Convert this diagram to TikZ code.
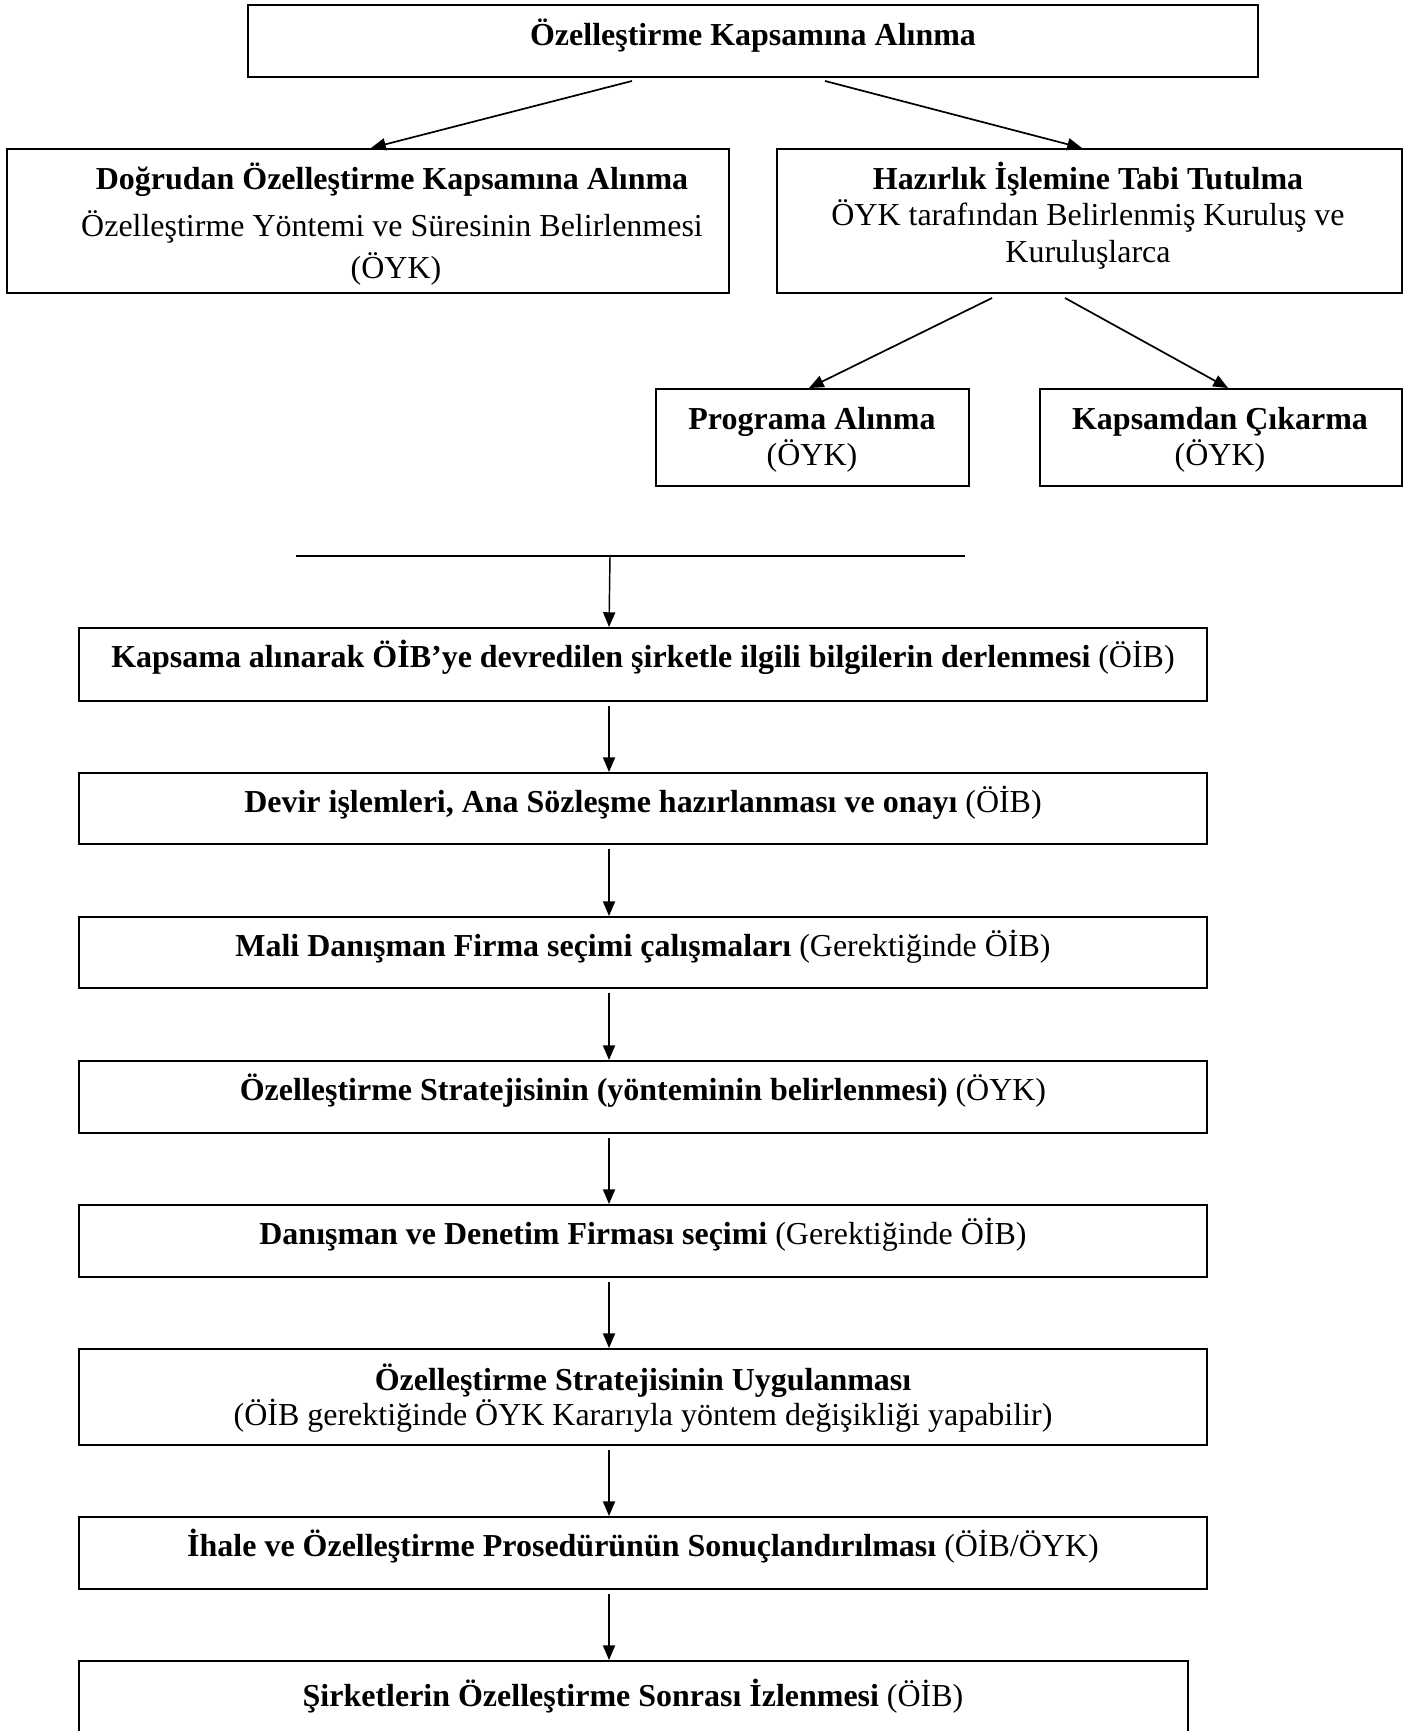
\documentclass[tikz,border=0pt]{standalone}
\usepackage{fontspec}
\setmainfont{Liberation Serif}
\usetikzlibrary{arrows.meta,calc}
\begin{document}
\begin{tikzpicture}[x=0.38pt,y=-0.38pt,
  pbox/.style 2 args={draw,line width=0.75pt,minimum width=#1*0.38pt,minimum height=#2*0.38pt,inner sep=0pt},
  txt/.style={anchor=base,inner sep=0pt,font=\fontsize{12.15}{14}\selectfont},
  arr/.style={line width=0.55pt,-{Triangle[length=5.6pt,width=4.6pt]}},
  darr/.style={line width=0.65pt,-{Triangle[length=5.6pt,width=4.6pt]}}]
\useasboundingbox (0,0) rectangle (1410,1731);
% boxes
\node[pbox={1010}{72}] (top) at (753,41) {};
\node[pbox={722}{144}] (dog) at (368,221) {};
\node[pbox={625}{144}] (haz) at (1089.5,221) {};
\node[pbox={313}{97}] (prog) at (812.5,437.5) {};
\node[pbox={362}{97}] (kap) at (1221,437.5) {};
\node[pbox={1128}{73}] (b1) at (643,664.5) {};
\node[pbox={1128}{71}] (b2) at (643,808.5) {};
\node[pbox={1128}{71}] (b3) at (643,952.5) {};
\node[pbox={1128}{72}] (b4) at (643,1097) {};
\node[pbox={1128}{72}] (b5) at (643,1241) {};
\node[pbox={1128}{96}] (b6) at (643,1397) {};
\node[pbox={1128}{72}] (b7) at (643,1553) {};
\node[pbox={1109}{99}] (b8) at (633.5,1710.5) {};
% texts
\node[txt] (t0) at (753,46) {\textbf{Özelleştirme Kapsamına Alınma}};
\node[txt] (d1) at (392,190) {\textbf{Doğrudan Özelleştirme Kapsamına Alınma}};
\node[txt] (d2) at (392,236) {Özelleştirme Yöntemi ve Süresinin Belirlenmesi};
\node[txt] (d3) at (396,278) {(ÖYK)};
\node[txt] (h1) at (1088,190) {\textbf{Hazırlık İşlemine Tabi Tutulma}};
\node[txt] (h2) at (1088,226) {ÖYK tarafından Belirlenmiş Kuruluş ve};
\node[txt] (h3) at (1088,262) {Kuruluşlarca};
\node[txt] (p1) at (812,429) {\textbf{Programa Alınma}};
\node[txt] (p2) at (812,465) {(ÖYK)};
\node[txt] (k1) at (1220,429) {\textbf{Kapsamdan Çıkarma}};
\node[txt] (k2) at (1220,465) {(ÖYK)};
\node[txt] (s1) at (643,667) {\textbf{Kapsama alınarak ÖİB’ye devredilen şirketle ilgili bilgilerin derlenmesi} (ÖİB)};
\node[txt] (s2) at (643,812) {\textbf{Devir işlemleri, Ana Sözleşme hazırlanması ve onayı} (ÖİB)};
\node[txt] (s3) at (643,956) {\textbf{Mali Danışman Firma seçimi çalışmaları} (Gerektiğinde ÖİB)};
\node[txt] (s4) at (643,1100) {\textbf{Özelleştirme Stratejisinin (yönteminin belirlenmesi)} (ÖYK)};
\node[txt] (s5) at (643,1244) {\textbf{Danışman ve Denetim Firması seçimi} (Gerektiğinde ÖİB)};
\node[txt] (s6a) at (643,1390) {\textbf{Özelleştirme Stratejisinin Uygulanması}};
\node[txt] (s6b) at (643,1425) {(ÖİB gerektiğinde ÖYK Kararıyla yöntem değişikliği yapabilir)};
\node[txt] (s7) at (643,1556) {\textbf{İhale ve Özelleştirme Prosedürünün Sonuçlandırılması} (ÖİB/ÖYK)};
\node[txt] (s8) at (633,1706) {\textbf{Şirketlerin Özelleştirme Sonrası İzlenmesi} (ÖİB)};
% horizontal line
\coordinate (hlL) at (296,556);
\coordinate (hlR) at (965,556);
\coordinate (hlM) at (610,556);
\draw[line width=0.75pt] (hlL) -- (hlR);
% diagonal arrows
\draw[darr] ($(top.south west)+(385,3)$) -- ($(dog.north west)+(365,0)$);
\draw[darr] ($(top.south west)+(578,3)$) -- ($(haz.north west)+(306,0)$);
\draw[darr] ($(haz.south west)+(216,4)$) -- ($(prog.north west)+(154,0)$);
\draw[darr] ($(haz.south west)+(289,4)$) -- ($(kap.north west)+(189,0)$);
% vertical arrows
\draw[arr] (hlM) -- ($(b1.north west)+(531,0)$);
\draw[arr] ($(b1.south west)+(531,4)$) -- ($(b2.north west)+(531,0)$);
\draw[arr] ($(b2.south west)+(531,4)$) -- ($(b3.north west)+(531,0)$);
\draw[arr] ($(b3.south west)+(531,4)$) -- ($(b4.north west)+(531,0)$);
\draw[arr] ($(b4.south west)+(531,4)$) -- ($(b5.north west)+(531,0)$);
\draw[arr] ($(b5.south west)+(531,4)$) -- ($(b6.north west)+(531,0)$);
\draw[arr] ($(b6.south west)+(531,4)$) -- ($(b7.north west)+(531,0)$);
\draw[arr] ($(b7.south west)+(531,4)$) -- ($(b8.north west)+(531,0)$);
\end{tikzpicture}
\end{document}
